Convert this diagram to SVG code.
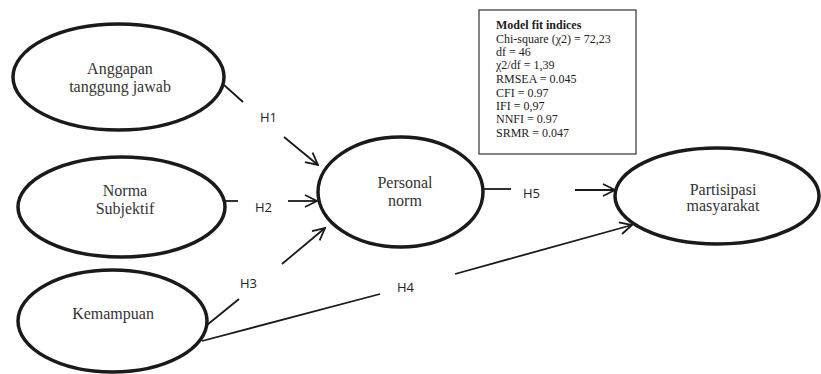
<svg xmlns="http://www.w3.org/2000/svg" width="821" height="374" viewBox="0 0 821 374">
<defs>
<style>
.node ellipse{fill:#fff;stroke:#1a1a1a;stroke-width:3.5}
.conn line{stroke:#1a1a1a;stroke-width:1.8;fill:none}
</style>
<marker id="arr" viewBox="0 0 14 14" refX="13" refY="7" markerWidth="14" markerHeight="14" markerUnits="userSpaceOnUse" orient="auto">
<path d="M1,1 L13,7 L1,13" fill="none" stroke="#1a1a1a" stroke-width="1.8"/>
</marker>
</defs>
<rect width="821" height="374" fill="#fff"/>
<g id="fit-box" font-family="'Liberation Serif', 'Times New Roman', serif" font-size="12" fill="#222">
<rect x="479" y="10" width="157" height="144" fill="#fff" stroke="#333" stroke-width="1.2"/>
<text x="496" y="29" font-weight="bold">Model fit indices</text>
<text x="496" y="43">Chi-square (χ2) = 72,23</text>
<text x="496" y="56">df = 46</text>
<text x="496" y="69">χ2/df = 1,39</text>
<text x="496" y="83">RMSEA = 0.045</text>
<text x="496" y="97">CFI = 0.97</text>
<text x="496" y="110">IFI = 0,97</text>
<text x="496" y="123">NNFI = 0.97</text>
<text x="496" y="137">SRMR = 0.047</text>
</g>
<g id="connectors" class="conn">
<line x1="224" y1="85" x2="243" y2="102"/>
<line x1="284" y1="137" x2="318" y2="165" marker-end="url(#arr)"/>
<line x1="225" y1="201" x2="238" y2="201"/>
<line x1="288" y1="201" x2="317" y2="201" marker-end="url(#arr)"/>
<line x1="207" y1="325" x2="239" y2="299"/>
<line x1="282" y1="264" x2="325" y2="228" marker-end="url(#arr)"/>
<line x1="202" y1="341" x2="380" y2="294"/>
<line x1="455" y1="274" x2="632" y2="225" marker-end="url(#arr)"/>
<line x1="483" y1="189" x2="511" y2="189"/>
<line x1="575" y1="190" x2="615" y2="190" marker-end="url(#arr)"/>
<g font-family="'Open Sans', 'DejaVu Sans', sans-serif" font-size="13" fill="#222">
<text x="260" y="122">H1</text>
<text x="255" y="212">H2</text>
<text x="240" y="288">H3</text>
<text x="397" y="292">H4</text>
<text x="523" y="198">H5</text>
</g>
</g>
<g font-family="'Liberation Serif', 'Times New Roman', serif" font-size="16" fill="#333" text-anchor="middle">
<g id="anggapan" class="node">
<ellipse cx="118.5" cy="77" rx="105.5" ry="53"/>
<text x="120" y="74">Anggapan</text>
<text x="120" y="92">tanggung jawab</text>
</g>
<g id="norma" class="node">
<ellipse cx="121.5" cy="207" rx="103.5" ry="50"/>
<text x="125" y="196">Norma</text>
<text x="125" y="214">Subjektif</text>
</g>
<g id="kemampuan" class="node">
<ellipse cx="112.5" cy="321" rx="94.5" ry="51"/>
<text x="113" y="319">Kemampuan</text>
</g>
<g id="personal" class="node">
<ellipse cx="400.5" cy="192" rx="82.5" ry="55"/>
<text x="405" y="188">Personal</text>
<text x="405" y="206">norm</text>
</g>
<g id="partisipasi" class="node">
<ellipse cx="717" cy="196" rx="102" ry="48"/>
<text x="723" y="195">Partisipasi</text>
<text x="723" y="211">masyarakat</text>
</g>
</g>
</svg>
